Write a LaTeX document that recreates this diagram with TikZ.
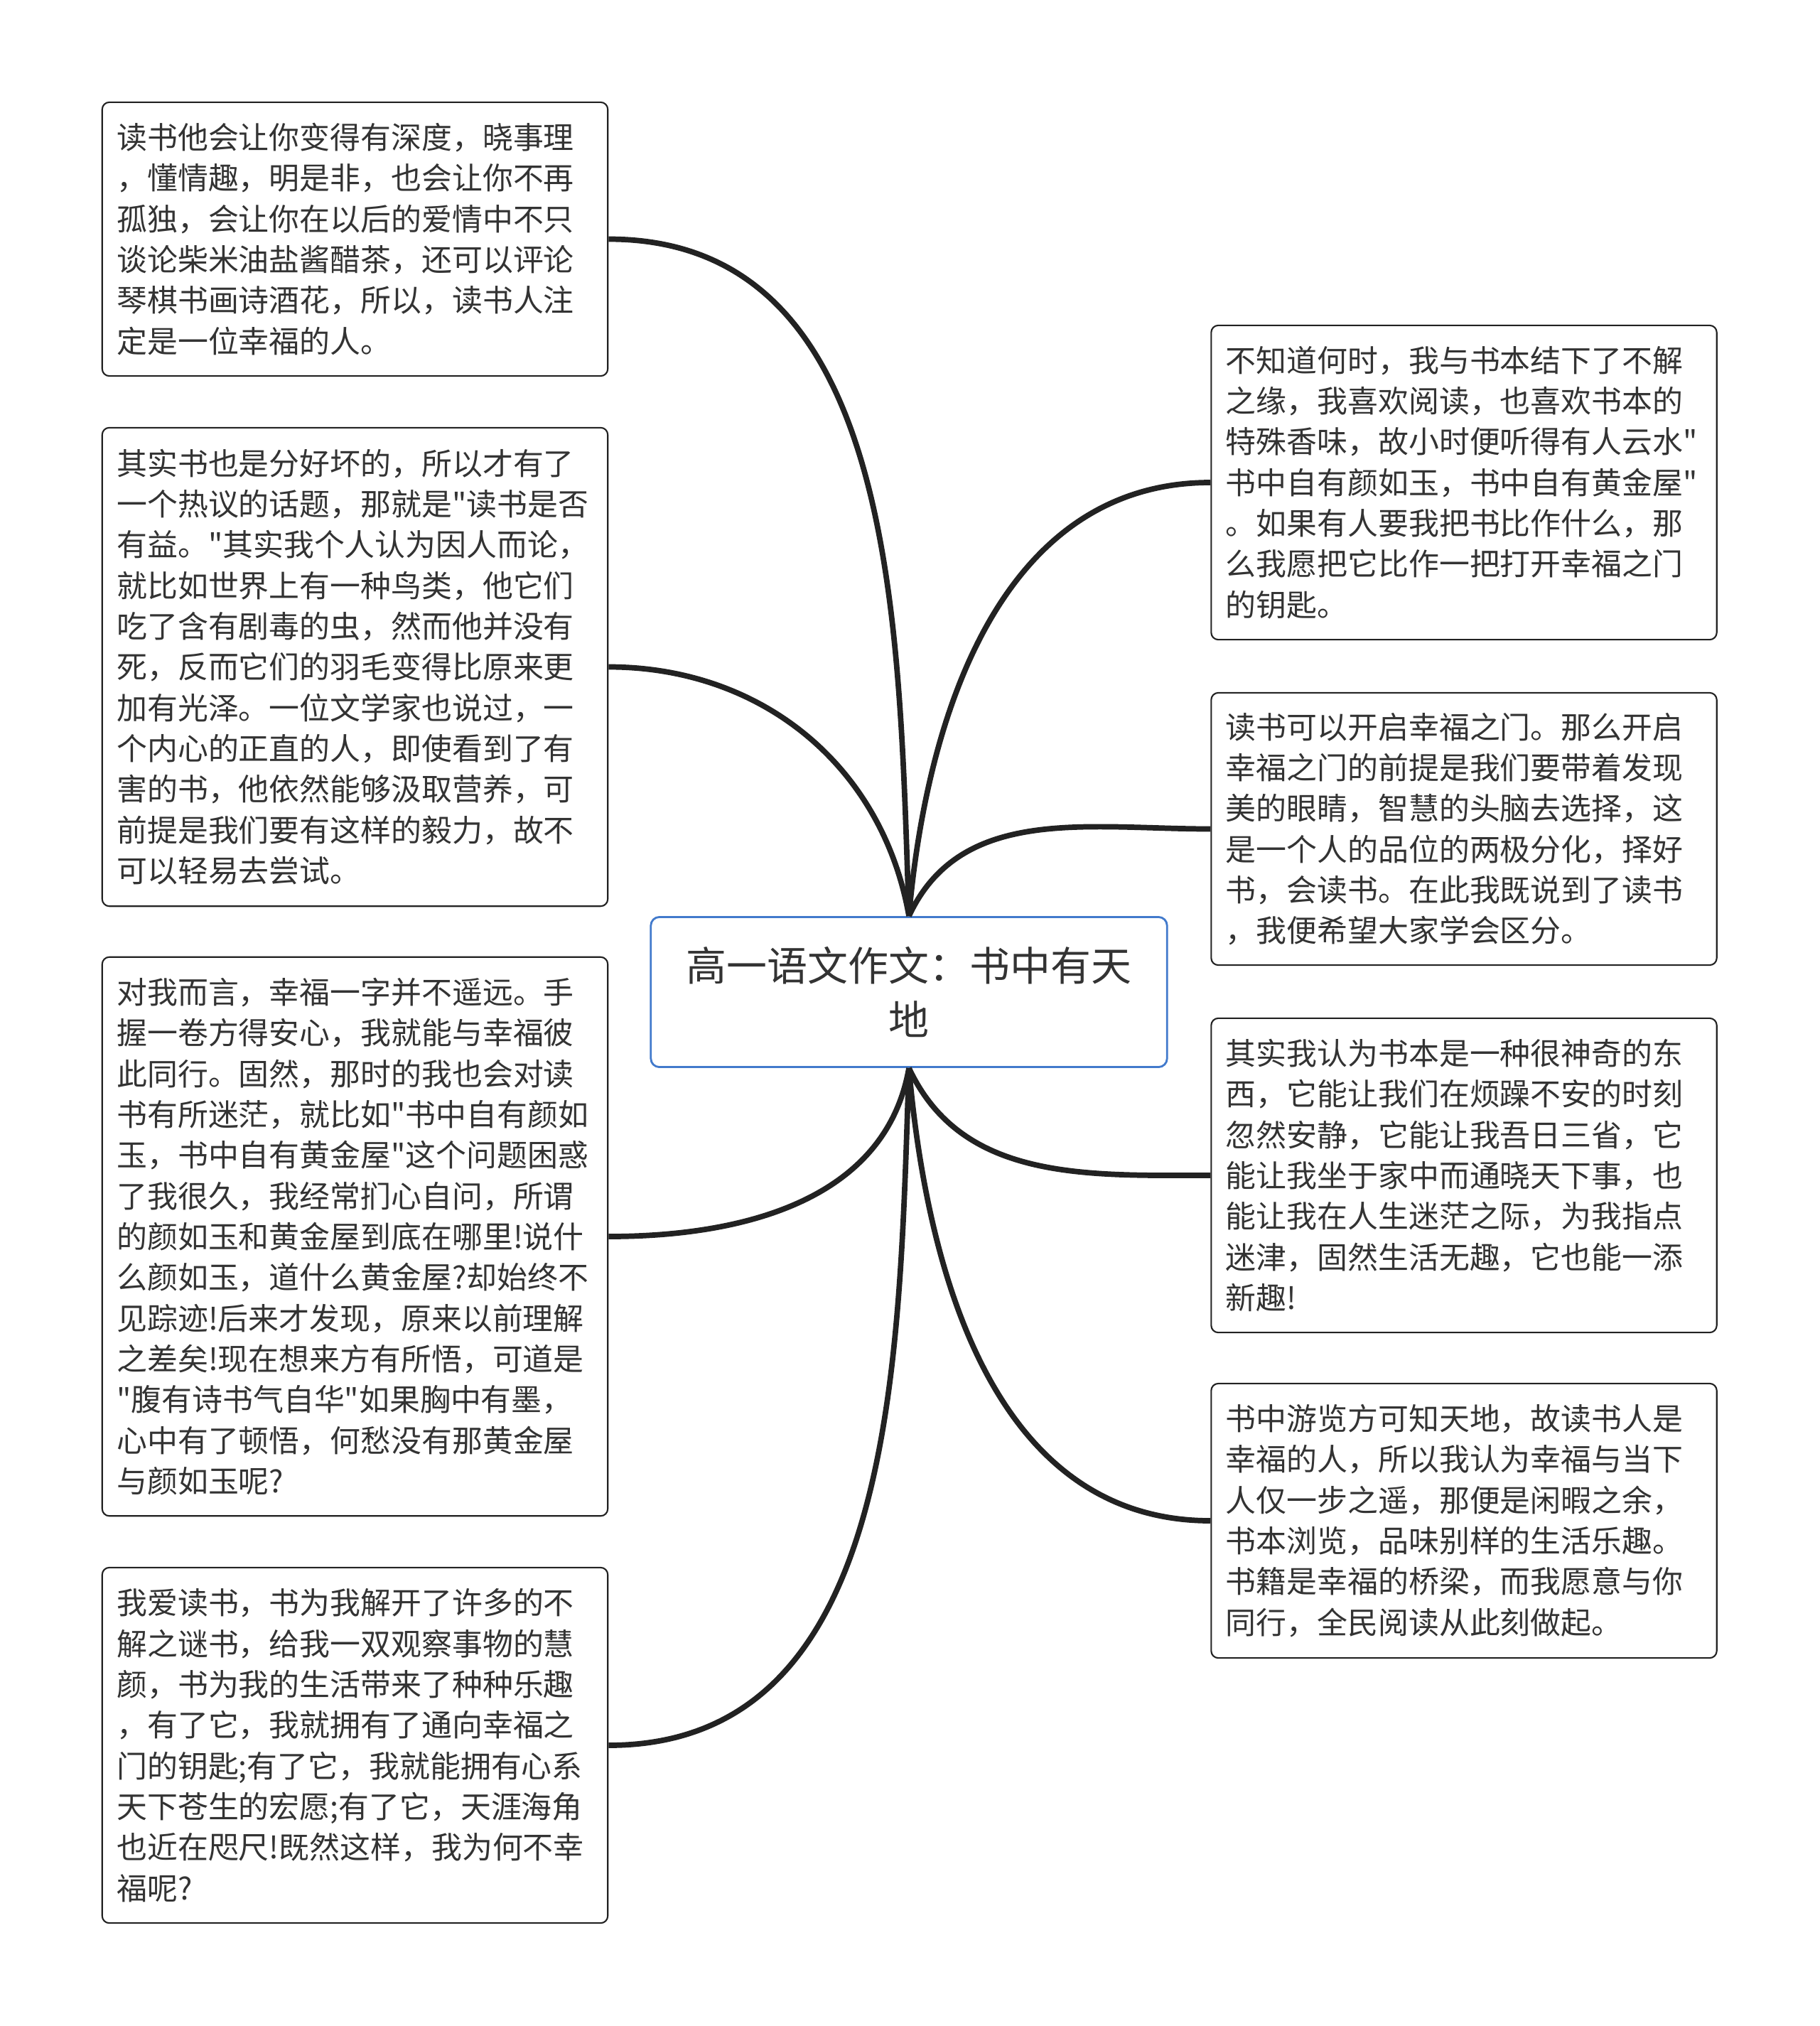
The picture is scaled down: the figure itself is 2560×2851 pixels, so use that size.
\documentclass[tikz,border=0pt]{standalone}
\usepackage{fontspec}
\setmainfont{Noto Sans CJK SC}[Ligatures=TeXOff]
\definecolor{TextGray}{RGB}{51,51,51}
\definecolor{LineGray}{RGB}{34,34,34}
\definecolor{RootBlue}{RGB}{66,122,204}

\begin{document}
\begin{tikzpicture}[
  x=0.01cm, y=-0.01cm,
  leaf/.style={draw=LineGray, line width=0.6pt, rounded corners=0.1cm, fill=white,
    text width=6.7cm, inner xsep=0.205cm, inner ysep=0pt, align=left, text=TextGray,
    font=\fontsize{12.2pt}{16.3pt}\selectfont, minimum height=#1},
  root/.style={draw=RootBlue, line width=0.8pt, rounded corners=0.12cm, fill=white,
    minimum width=7.26cm, minimum height=2.11cm, align=center, text=TextGray,
    font=\fontsize{16.2pt}{21.6pt}\selectfont},
  branch/.style={draw=LineGray, line width=2.2pt}
]
  \fill[white] (0,0) rectangle (2560,2851);
  \useasboundingbox (0,0) rectangle (2560,2851);

  % Centre
  \node[root] (root) at (1279,1396) {高一语文作文：书中有天\\地};

  % Left
  \node[leaf=3.85cm] (l1) at (499.5,336.5) {读书他会让你变得有深度，晓事理\\，懂情趣，明是非，也会让你不再\\孤独，会让你在以后的爱情中不只\\谈论柴米油盐酱醋茶，还可以评论\\琴棋书画诗酒花，所以，读书人注\\定是一位幸福的人。};
  \node[leaf=6.73cm] (l2) at (499.5,938.5) {其实书也是分好坏的，所以才有了\\一个热议的话题，那就是"读书是否\\有益。"其实我个人认为因人而论，\\就比如世界上有一种鸟类，他它们\\吃了含有剧毒的虫，然而他并没有\\死，反而它们的羽毛变得比原来更\\加有光泽。一位文学家也说过，一\\个内心的正直的人，即使看到了有\\害的书，他依然能够汲取营养，可\\前提是我们要有这样的毅力，故不\\可以轻易去尝试。};
  \node[leaf=7.86cm] (l3) at (499.5,1740) {对我而言，幸福一字并不遥远。手\\握一卷方得安心，我就能与幸福彼\\此同行。固然，那时的我也会对读\\书有所迷茫，就比如"书中自有颜如\\玉，书中自有黄金屋"这个问题困惑\\了我很久，我经常扪心自问，所谓\\的颜如玉和黄金屋到底在哪里!说什\\么颜如玉，道什么黄金屋?却始终不\\见踪迹!后来才发现，原来以前理解\\之差矣!现在想来方有所悟，可道是\\"腹有诗书气自华"如果胸中有墨，\\心中有了顿悟，何愁没有那黄金屋\\与颜如玉呢?};
  \node[leaf=5.00cm] (l4) at (499.5,2456) {我爱读书，书为我解开了许多的不\\解之谜书，给我一双观察事物的慧\\颜，书为我的生活带来了种种乐趣\\，有了它，我就拥有了通向幸福之\\门的钥匙;有了它，我就能拥有心系\\天下苍生的宏愿;有了它，天涯海角\\也近在咫尺!既然这样，我为何不幸\\福呢?};

  % Right
  \node[leaf=4.42cm] (r1) at (2060,679) {不知道何时，我与书本结下了不解\\之缘，我喜欢阅读，也喜欢书本的\\特殊香味，故小时便听得有人云水"\\书中自有颜如玉，书中自有黄金屋"\\。如果有人要我把书比作什么，那\\么我愿把它比作一把打开幸福之门\\的钥匙。};
  \node[leaf=3.83cm] (r2) at (2060,1166.5) {读书可以开启幸福之门。那么开启\\幸福之门的前提是我们要带着发现\\美的眼睛，智慧的头脑去选择，这\\是一个人的品位的两极分化，择好\\书，会读书。在此我既说到了读书\\，我便希望大家学会区分。};
  \node[leaf=4.42cm] (r3) at (2060,1654) {其实我认为书本是一种很神奇的东\\西，它能让我们在烦躁不安的时刻\\忽然安静，它能让我吾日三省，它\\能让我坐于家中而通晓天下事，也\\能让我在人生迷茫之际，为我指点\\迷津，固然生活无趣，它也能一添\\新趣!};
  \node[leaf=3.86cm] (r4) at (2060,2140) {书中游览方可知天地，故读书人是\\幸福的人，所以我认为幸福与当下\\人仅一步之遥，那便是闲暇之余，\\书本浏览，品味别样的生活乐趣。\\书籍是幸福的桥梁，而我愿意与你\\同行，全民阅读从此刻做起。};

  % Branches
  \draw[branch] (root.north) to[out=92,in=0] (l1.east);
  \draw[branch] (root.north) to[out=100,in=0] (l2.east);
  \draw[branch] (root.south) to[out=-100,in=0] (l3.east);
  \draw[branch] (root.south) to[out=-92,in=0] (l4.east);
  \draw[branch] (root.north) to[out=85,in=180] (r1.west);
  \draw[branch] (root.north) to[out=65,in=180] (r2.west);
  \draw[branch] (root.south) to[out=-65,in=180] (r3.west);
  \draw[branch] (root.south) to[out=-85,in=180] (r4.west);
\end{tikzpicture}
\end{document}
